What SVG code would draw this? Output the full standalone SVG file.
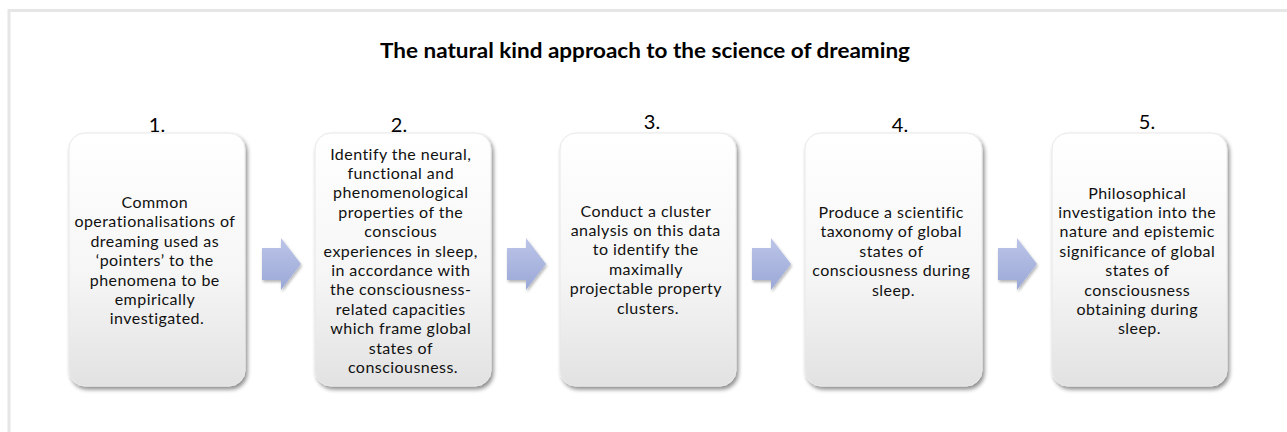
<svg xmlns="http://www.w3.org/2000/svg" width="1287" height="432" viewBox="0 0 1287 432">
  <defs>
    <linearGradient id="boxFill" x1="0" y1="0" x2="0" y2="1">
      <stop offset="0" stop-color="#ffffff"/>
      <stop offset="0.55" stop-color="#f6f6f6"/>
      <stop offset="1" stop-color="#e2e2e2"/>
    </linearGradient>
    <linearGradient id="arrowFill" x1="0" y1="0" x2="0" y2="1">
      <stop offset="0" stop-color="#bcc5e8"/>
      <stop offset="1" stop-color="#9ba8d7"/>
    </linearGradient>
    <filter id="boxShadow" x="-10%" y="-10%" width="125%" height="125%">
      <feGaussianBlur in="SourceAlpha" stdDeviation="2.2"/>
      <feOffset dx="1.5" dy="3" result="blur"/>
      <feComponentTransfer><feFuncA type="linear" slope="0.45"/></feComponentTransfer>
      <feMerge><feMergeNode/><feMergeNode in="SourceGraphic"/></feMerge>
    </filter>
    <filter id="arrowShadow" x="-20%" y="-20%" width="150%" height="150%">
      <feGaussianBlur in="SourceAlpha" stdDeviation="1.5"/>
      <feOffset dx="1" dy="2"/>
      <feComponentTransfer><feFuncA type="linear" slope="0.3"/></feComponentTransfer>
      <feMerge><feMergeNode/><feMergeNode in="SourceGraphic"/></feMerge>
    </filter>
    <path id="arrowShape" d="M0,10 H19 V0 L39,26 L19,52 V42 H0 Z"/>
  </defs>
  <style>
    .frame { fill: none; stroke: #e6e6e6; stroke-width: 3; }
    .box { fill: url(#boxFill); stroke: #e8e8e8; stroke-width: 1; filter: url(#boxShadow); }
    .arrow { fill: url(#arrowFill); filter: url(#arrowShadow); }
    .title { font-family: Lato, "Liberation Sans", sans-serif; font-weight: 700; font-size: 21px; fill: #000; text-anchor: middle; }
    .num { font-family: Lato, "Liberation Sans", sans-serif; font-size: 20px; fill: #000; text-anchor: middle; }
    .body { font-family: Lato, "Liberation Sans", sans-serif; font-size: 16px; letter-spacing: 0.45px; fill: #111; text-anchor: middle; }
  </style>

  <rect width="1287" height="432" fill="#ffffff"/>
  <!-- outer frame: top and left edges -->
  <path class="frame" d="M9,432 V10.5 H1287"/>

  <text class="title" x="645" y="58" textLength="530" lengthAdjust="spacingAndGlyphs">The natural kind approach to the science of dreaming</text>

  <!-- connectors: block arrows between steps -->
  <g id="connectors">
    <use href="#arrowShape" class="arrow" x="262" y="238"/>
    <use href="#arrowShape" class="arrow" x="507" y="238"/>
    <use href="#arrowShape" class="arrow" x="752" y="238"/>
    <use href="#arrowShape" class="arrow" x="998" y="238"/>
  </g>

  <g id="step1">
    <rect class="box" x="69" y="133" width="176" height="253" rx="16"/>
    <text class="num" x="157" y="132">1.</text>
    <text class="body">
      <tspan x="157" y="208">Common</tspan>
      <tspan x="157" dy="19.4">operationalisations of</tspan>
      <tspan x="157" dy="19.4">dreaming used as</tspan>
      <tspan x="157" dy="19.4">‘pointers’ to the</tspan>
      <tspan x="157" dy="19.4">phenomena to be</tspan>
      <tspan x="157" dy="19.4">empirically</tspan>
      <tspan x="157" dy="19.4">investigated.</tspan>
    </text>
  </g>

  <g id="step2">
    <rect class="box" x="315" y="133" width="176" height="253" rx="16"/>
    <text class="num" x="399" y="132">2.</text>
    <text class="body">
      <tspan x="403" y="159.5">Identify the neural,</tspan>
      <tspan x="403" dy="19.4">functional and</tspan>
      <tspan x="403" dy="19.4">phenomenological</tspan>
      <tspan x="403" dy="19.4">properties of the</tspan>
      <tspan x="403" dy="19.4">conscious</tspan>
      <tspan x="403" dy="19.4">experiences in sleep,</tspan>
      <tspan x="403" dy="19.4">in accordance with</tspan>
      <tspan x="403" dy="19.4">the consciousness-</tspan>
      <tspan x="403" dy="19.4">related capacities</tspan>
      <tspan x="403" dy="19.4">which frame global</tspan>
      <tspan x="403" dy="19.4">states of</tspan>
      <tspan x="403" dy="19.4">consciousness.</tspan>
    </text>
  </g>

  <g id="step3">
    <rect class="box" x="560" y="133" width="176" height="253" rx="16"/>
    <text class="num" x="652" y="129">3.</text>
    <text class="body">
      <tspan x="648" y="216.5">Conduct a cluster</tspan>
      <tspan x="648" dy="19.4">analysis on this data</tspan>
      <tspan x="648" dy="19.4">to identify the</tspan>
      <tspan x="648" dy="19.4">maximally</tspan>
      <tspan x="648" dy="19.4">projectable property</tspan>
      <tspan x="648" dy="19.4">clusters.</tspan>
    </text>
  </g>

  <g id="step4">
    <rect class="box" x="805" y="133" width="177" height="253" rx="16"/>
    <text class="num" x="900" y="132">4.</text>
    <text class="body">
      <tspan x="893.5" y="218">Produce a scientific</tspan>
      <tspan x="893.5" dy="19.4">taxonomy of global</tspan>
      <tspan x="893.5" dy="19.4">states of</tspan>
      <tspan x="893.5" dy="19.4">consciousness during</tspan>
      <tspan x="893.5" dy="19.4">sleep.</tspan>
    </text>
  </g>

  <g id="step5">
    <rect class="box" x="1052" y="133" width="175" height="253" rx="16"/>
    <text class="num" x="1147" y="129">5.</text>
    <text class="body">
      <tspan x="1139.5" y="198.5">Philosophical</tspan>
      <tspan x="1139.5" dy="19.4">investigation into the</tspan>
      <tspan x="1139.5" dy="19.4">nature and epistemic</tspan>
      <tspan x="1139.5" dy="19.4">significance of global</tspan>
      <tspan x="1139.5" dy="19.4">states of</tspan>
      <tspan x="1139.5" dy="19.4">consciousness</tspan>
      <tspan x="1139.5" dy="19.4">obtaining during</tspan>
      <tspan x="1139.5" dy="19.4">sleep.</tspan>
    </text>
  </g>
</svg>
